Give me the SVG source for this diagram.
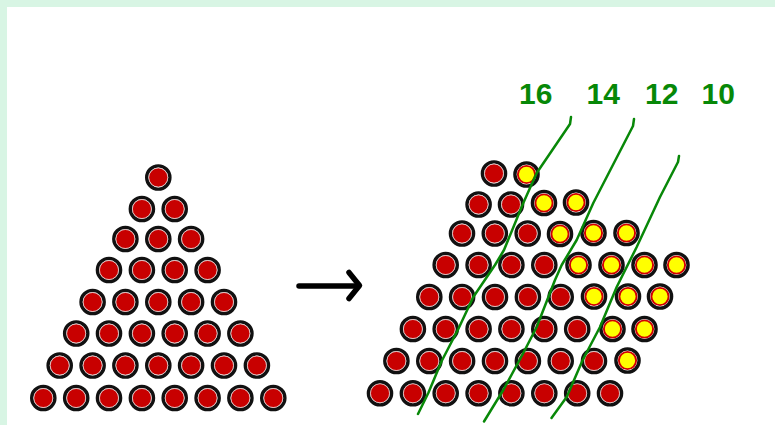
<svg xmlns="http://www.w3.org/2000/svg" xmlns:xlink="http://www.w3.org/1999/xlink" width="775" height="425" viewBox="0 0 775 425">
<style>
.lbl{font-family:"Liberation Sans",Arial,sans-serif;font-weight:bold;font-size:30px;fill:#078807;text-anchor:middle}
.gl{fill:none;stroke:#088808;stroke-width:2.5;stroke-linejoin:round;stroke-linecap:round}
.arr{fill:none;stroke:#000;stroke-width:5.5;stroke-linecap:round;stroke-linejoin:round}
</style>
<defs>
<g id="r"><circle r="11.6" fill="#fff" stroke="#111" stroke-width="3.4"/><circle r="9.5" fill="#c80000" stroke="#e2d6d6" stroke-width="0.7"/></g>
<g id="y"><circle r="11.6" fill="#fff" stroke="#111" stroke-width="3.4"/><circle r="8.6" fill="#ffff00" stroke="#d00000" stroke-width="1.9"/></g>
</defs>
<rect x="0" y="0" width="775" height="425" fill="#d8f5e4"/>
<rect x="7" y="7" width="768" height="418" fill="#fff"/>
<g id="triangle">
<use xlink:href="#r" x="158.3" y="177.5"/>
<use xlink:href="#r" x="141.9" y="209"/><use xlink:href="#r" x="174.7" y="209"/>
<use xlink:href="#r" x="125.4" y="239"/><use xlink:href="#r" x="158.3" y="239"/><use xlink:href="#r" x="191.1" y="239"/>
<use xlink:href="#r" x="109" y="270"/><use xlink:href="#r" x="141.9" y="270"/><use xlink:href="#r" x="174.7" y="270"/><use xlink:href="#r" x="207.6" y="270"/>
<use xlink:href="#r" x="92.6" y="302"/><use xlink:href="#r" x="125.4" y="302"/><use xlink:href="#r" x="158.3" y="302"/><use xlink:href="#r" x="191.1" y="302"/><use xlink:href="#r" x="224" y="302"/>
<use xlink:href="#r" x="76.2" y="333.5"/><use xlink:href="#r" x="109" y="333.5"/><use xlink:href="#r" x="141.9" y="333.5"/><use xlink:href="#r" x="174.7" y="333.5"/><use xlink:href="#r" x="207.6" y="333.5"/><use xlink:href="#r" x="240.4" y="333.5"/>
<use xlink:href="#r" x="59.7" y="365.5"/><use xlink:href="#r" x="92.6" y="365.5"/><use xlink:href="#r" x="125.4" y="365.5"/><use xlink:href="#r" x="158.3" y="365.5"/><use xlink:href="#r" x="191.1" y="365.5"/><use xlink:href="#r" x="224" y="365.5"/><use xlink:href="#r" x="256.9" y="365.5"/>
<use xlink:href="#r" x="43.3" y="398"/><use xlink:href="#r" x="76.2" y="398"/><use xlink:href="#r" x="109" y="398"/><use xlink:href="#r" x="141.9" y="398"/><use xlink:href="#r" x="174.7" y="398"/><use xlink:href="#r" x="207.6" y="398"/><use xlink:href="#r" x="240.4" y="398"/><use xlink:href="#r" x="273.3" y="398"/>
</g>
<g id="arrow">
<line class="arr" x1="299" y1="286" x2="357" y2="286"/>
<polyline class="arr" points="349,272.5 359.5,285.5 349,298.5"/>
</g>
<g id="parallelogram">
<use xlink:href="#r" x="494" y="173.5"/><use xlink:href="#y" x="526.5" y="174.5"/>
<use xlink:href="#r" x="478.6" y="204.5"/><use xlink:href="#r" x="511" y="204.5"/><use xlink:href="#y" x="544" y="203"/><use xlink:href="#y" x="576" y="202.5"/>
<use xlink:href="#r" x="462" y="233.5"/><use xlink:href="#r" x="494.8" y="233.5"/><use xlink:href="#r" x="527.7" y="233.5"/><use xlink:href="#y" x="560" y="234"/><use xlink:href="#y" x="593.5" y="233"/><use xlink:href="#y" x="626.5" y="233"/>
<use xlink:href="#r" x="445.7" y="265"/><use xlink:href="#r" x="478.6" y="265"/><use xlink:href="#r" x="511.4" y="265"/><use xlink:href="#r" x="544.3" y="265"/><use xlink:href="#y" x="578.5" y="265"/><use xlink:href="#y" x="611.5" y="265"/><use xlink:href="#y" x="644.5" y="265"/><use xlink:href="#y" x="676.5" y="265"/>
<use xlink:href="#r" x="429.3" y="297"/><use xlink:href="#r" x="462.1" y="297"/><use xlink:href="#r" x="495" y="297"/><use xlink:href="#r" x="527.9" y="297"/><use xlink:href="#r" x="560.7" y="297"/><use xlink:href="#y" x="594" y="296.5"/><use xlink:href="#y" x="628" y="296.5"/><use xlink:href="#y" x="660" y="296.5"/>
<use xlink:href="#r" x="412.9" y="329"/><use xlink:href="#r" x="445.7" y="329"/><use xlink:href="#r" x="478.6" y="329"/><use xlink:href="#r" x="511.4" y="329"/><use xlink:href="#r" x="544.3" y="329"/><use xlink:href="#r" x="577.2" y="329"/><use xlink:href="#y" x="612.5" y="329"/><use xlink:href="#y" x="644.5" y="329"/>
<use xlink:href="#r" x="396.4" y="361"/><use xlink:href="#r" x="429.3" y="361"/><use xlink:href="#r" x="462.1" y="361"/><use xlink:href="#r" x="495" y="361"/><use xlink:href="#r" x="527.9" y="361"/><use xlink:href="#r" x="560.7" y="361"/><use xlink:href="#r" x="594" y="361"/><use xlink:href="#y" x="627.5" y="360.5"/>
<use xlink:href="#r" x="380" y="393.3"/><use xlink:href="#r" x="412.9" y="393.3"/><use xlink:href="#r" x="445.7" y="393.3"/><use xlink:href="#r" x="478.6" y="393.3"/><use xlink:href="#r" x="511.4" y="393.3"/><use xlink:href="#r" x="544.3" y="393.3"/><use xlink:href="#r" x="577.2" y="393.3"/><use xlink:href="#r" x="610" y="393.3"/>
</g>
<g id="lines">
<polyline class="gl" points="571,117 570,124 536.7,173 523.3,203 504,250 495,265 473.3,297 458.3,329 441.7,361 428.3,393 418,414"/>
<polyline class="gl" points="634,119 633,126 593.3,203 576.7,240 561.7,265 555,280 536.7,327 523.3,353 503.3,390 484,421.5"/>
<polyline class="gl" points="679,156 678,162 660,197 636.7,247 616.7,287 600,327 582.7,360 566.7,397 551.5,418"/>
</g>
<g id="labels">
<text class="lbl" x="535.8" y="104">16</text>
<text class="lbl" x="603.3" y="104">14</text>
<text class="lbl" x="661.7" y="104">12</text>
<text class="lbl" x="718.3" y="104">10</text>
</g>
</svg>
